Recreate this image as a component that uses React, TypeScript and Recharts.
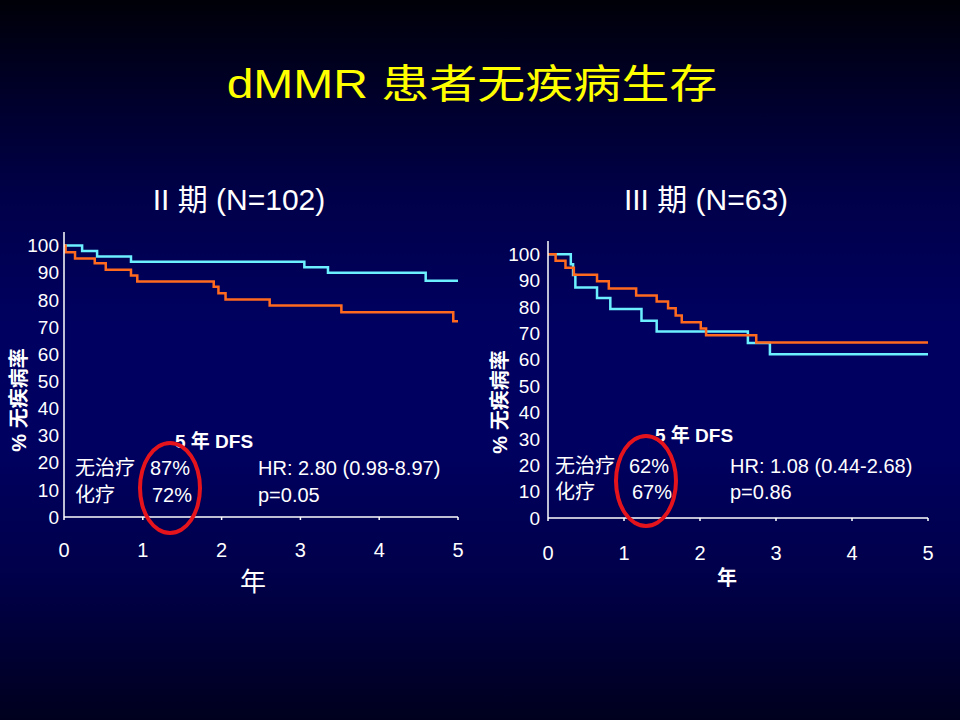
import React from 'react';
import { LineChart, Line, XAxis, YAxis } from 'recharts';

// x axis (years) and y axis (% disease-free) ticks
const years = [0, 1, 2, 3, 4, 5];
const pctTicks = [0, 10, 20, 30, 40, 50, 60, 70, 80, 90, 100];

// Stage II (N=102)
const s2NoChemoT = [0, 0.23, 0.42, 0.85, 3.05, 3.35, 4.59, 5];
const s2NoChemoS = [100, 98, 96, 94, 92, 90, 87, 87];
const s2ChemoT = [0, 0.02, 0.14, 0.39, 0.53, 0.85, 0.93, 1.9, 1.96, 2.05, 2.61, 3.52, 4.94, 5];
const s2ChemoS = [100, 97.5, 95.2, 93.5, 91.1, 89, 86.8, 84.8, 82.4, 80.1, 77.9, 75.4, 72.1, 72.1];

// Stage III (N=63)
const s3NoChemoT = [0, 0.3, 0.33, 0.36, 0.645, 0.82, 1.23, 1.43, 2.63, 2.92, 5];
const s3NoChemoS = [100, 96.2, 92.1, 87.4, 83.4, 79.2, 74.8, 70.7, 66.3, 62.1, 62.1];
const s3ChemoT = [0, 0.1, 0.23, 0.34, 0.645, 0.8, 1.16, 1.43, 1.58, 1.68, 1.76, 2.01, 2.08, 2.74, 5];
const s3ChemoS = [100, 97.5, 94.9, 92.2, 89.7, 87, 84.3, 82.1, 79.5, 76.8, 74.2, 71.8, 69.3, 66.5, 66.5];

const toPoints = (t: number[], s: number[]) => t.map((v, i) => ({ t: v, s: s[i] }));

const CYAN = '#6cf0ff';
const ORANGE = '#ff6a1f';
const FONT = 'Arial, "Liberation Sans", "Noto Sans CJK SC", sans-serif';

type TxtProps = {
  x: number;
  y: number;
  size: number;
  bold?: boolean;
  center?: boolean;
  color?: string;
  rotate?: boolean;
  scaleX?: number;
  children: React.ReactNode;
};

function Txt({ x, y, size, bold, center, color = '#ffffff', rotate, scaleX, children }: TxtProps) {
  let transform = center || rotate ? 'translate(-50%, -50%)' : 'translate(0, -50%)';
  if (rotate) transform += ' rotate(-90deg)';
  if (scaleX) transform += ` scaleX(${scaleX})`;
  return (
    <div
      style={{
        position: 'absolute',
        left: x,
        top: y,
        transform,
        fontSize: size,
        fontWeight: bold ? 'bold' : 'normal',
        fontFamily: FONT,
        color,
        whiteSpace: 'nowrap',
        lineHeight: 1,
      }}
    >
      {children}
    </div>
  );
}

function Ellipse({ cx, cy }: { cx: number; cy: number }) {
  return (
    <div
      style={{
        position: 'absolute',
        left: cx - 32,
        top: cy - 47,
        width: 64,
        height: 94,
        border: '4px solid #e5141c',
        borderRadius: '50%',
        boxSizing: 'border-box',
      }}
    />
  );
}

type KmProps = {
  left: number;
  margin: { top: number; right: number; bottom: number; left: number };
  yTickMargin: number;
  xTickMargin: number;
  noChemo: { t: number; s: number }[];
  chemo: { t: number; s: number }[];
};

function KmChart({ left, margin, yTickMargin, xTickMargin, noChemo, chemo }: KmProps) {
  const tickStyle = { fill: '#ffffff', fontFamily: FONT };
  return (
    <div style={{ position: 'absolute', left, top: 200 }}>
      <LineChart width={480} height={380} margin={margin}>
        <XAxis
          type="number"
          dataKey="t"
          domain={[0, 5]}
          ticks={years}
          interval={0}
          allowDataOverflow
          height={30}
          stroke="#ffffff"
          strokeWidth={1.5}
          tickSize={3}
          tickMargin={xTickMargin}
          tick={{ ...tickStyle, fontSize: 20 }}
        />
        <YAxis
          type="number"
          dataKey="s"
          domain={[0, 105]}
          ticks={pctTicks}
          interval={0}
          allowDataOverflow
          width={40}
          stroke="#ffffff"
          strokeWidth={1.5}
          tickLine={false}
          tickSize={0}
          tickMargin={yTickMargin}
          tick={{ ...tickStyle, fontSize: 19 }}
        />
        <Line
          data={noChemo}
          dataKey="s"
          type="stepAfter"
          stroke={CYAN}
          strokeWidth={2.5}
          dot={false}
          isAnimationActive={false}
        />
        <Line
          data={chemo}
          dataKey="s"
          type="stepAfter"
          stroke={ORANGE}
          strokeWidth={2.5}
          dot={false}
          isAnimationActive={false}
        />
      </LineChart>
    </div>
  );
}

export default function App() {
  return (
    <div
      style={{
        position: 'absolute',
        left: 0,
        top: 0,
        width: 960,
        height: 720,
        overflow: 'hidden',
        fontFamily: FONT,
        background:
          'linear-gradient(to bottom, #000008 0%, #00002c 14%, #00004a 28%, #000060 45%, #000060 62%, #00004a 80%, #00001e 100%)',
      }}
    >
      <Txt x={472} y={84} size={40} center color="#ffff00" scaleX={1.2}>
        dMMR 患者无疾病生存
      </Txt>
      <Txt x={239} y={200} size={30} center>
        II 期 (N=102)
      </Txt>
      <Txt x={706} y={200} size={30} center>
        III 期 (N=63)
      </Txt>

      <KmChart
        left={0}
        margin={{ top: 32, right: 22, bottom: 33, left: 24 }}
        yTickMargin={5}
        xTickMargin={23}
        noChemo={toPoints(s2NoChemoT, s2NoChemoS)}
        chemo={toPoints(s2ChemoT, s2ChemoS)}
      />
      <KmChart
        left={480}
        margin={{ top: 41, right: 32, bottom: 32, left: 28 }}
        yTickMargin={8}
        xTickMargin={25}
        noChemo={toPoints(s3NoChemoT, s3NoChemoS)}
        chemo={toPoints(s3ChemoT, s3ChemoS)}
      />

      {/* axis titles */}
      <Txt x={19} y={400} size={20} bold rotate>
        % 无疾病率
      </Txt>
      <Txt x={500} y={402} size={20} bold rotate>
        % 无疾病率
      </Txt>
      <Txt x={253} y={582} size={26} center>
        年
      </Txt>
      <Txt x={727} y={578} size={20} bold center>
        年
      </Txt>

      {/* stage II annotations */}
      <Txt x={214} y={441} size={19} bold center>
        5 年 DFS
      </Txt>
      <Txt x={75} y={468} size={20}>无治疗</Txt>
      <Txt x={150} y={468} size={20}>87%</Txt>
      <Txt x={258} y={468} size={20}>HR: 2.80 (0.98-8.97)</Txt>
      <Txt x={75} y={495} size={20}>化疗</Txt>
      <Txt x={152} y={495} size={20}>72%</Txt>
      <Txt x={258} y={495} size={20}>p=0.05</Txt>
      <Ellipse cx={170} cy={488} />

      {/* stage III annotations */}
      <Txt x={694} y={435} size={19} bold center>
        5 年 DFS
      </Txt>
      <Txt x={555} y={466} size={20}>无治疗</Txt>
      <Txt x={629} y={466} size={20}>62%</Txt>
      <Txt x={730} y={466} size={20}>HR: 1.08 (0.44-2.68)</Txt>
      <Txt x={555} y={492} size={20}>化疗</Txt>
      <Txt x={632} y={492} size={20}>67%</Txt>
      <Txt x={730} y={492} size={20}>p=0.86</Txt>
      <Ellipse cx={646} cy={481} />
    </div>
  );
}
